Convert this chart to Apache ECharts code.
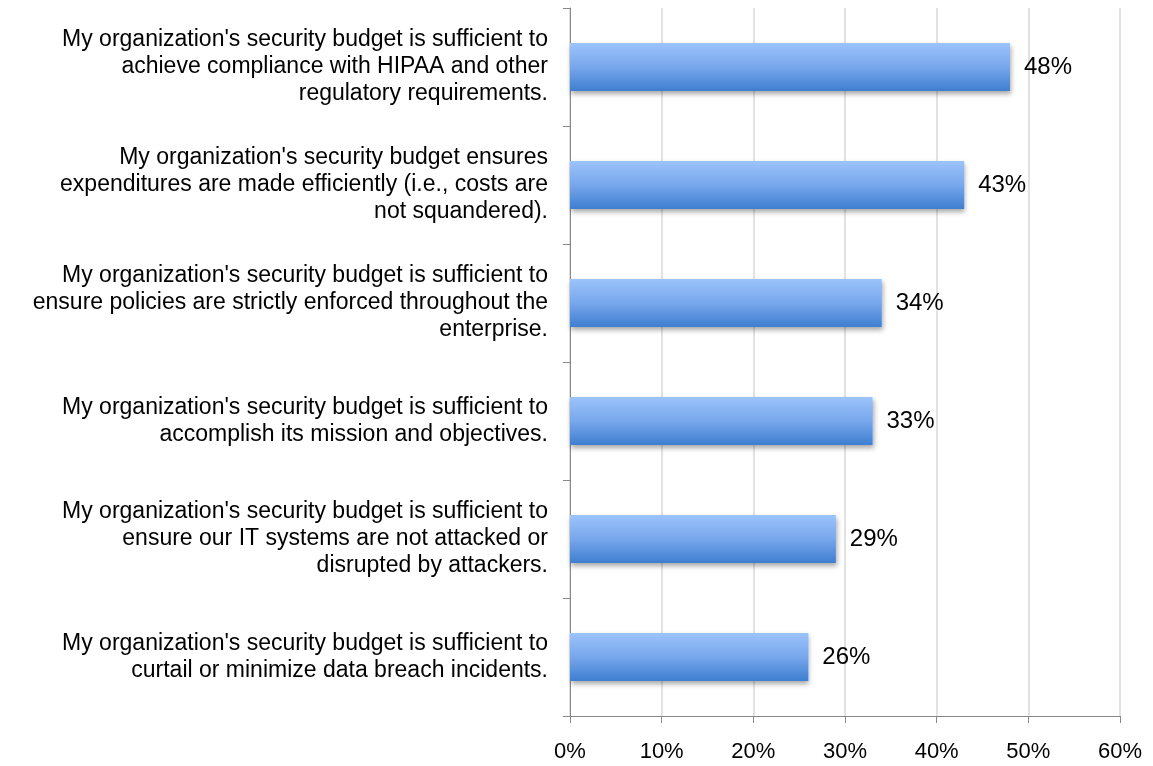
<!DOCTYPE html>
<html>
<head>
<meta charset="utf-8">
<script src="https://cdn.jsdelivr.net/npm/echarts@6/dist/echarts.min.js"></script>
<style>
  html, body { margin: 0; padding: 0; background: #fff; }
  #chart { width: 1153px; height: 766px; }
</style>
</head>
<body>
<div id="chart"></div>
<script>
// Survey statements, listed top to bottom
const categories = [
  "My organization's security budget is sufficient to\nachieve compliance with HIPAA and other\nregulatory requirements.",
  "My organization's security budget ensures\nexpenditures are made efficiently (i.e., costs are\nnot squandered).",
  "My organization's security budget is sufficient to\nensure policies are strictly enforced throughout the\nenterprise.",
  "My organization's security budget is sufficient to\naccomplish its mission and objectives.",
  "My organization's security budget is sufficient to\nensure our IT systems are not attacked or\ndisrupted by attackers.",
  "My organization's security budget is sufficient to\ncurtail or minimize data breach incidents."
];
// Share of respondents agreeing (%)
const values = [48, 43, 34, 33, 29, 26];
// X axis range and step (%)
const axisMin = 0;
const axisMax = 60;
const axisStep = 10;

const chart = echarts.init(document.getElementById('chart'));
const font = 'Arial, "Liberation Sans", sans-serif';

chart.setOption({
  animation: false,
  grid: { left: 570, right: 33, top: 8, bottom: 50, containLabel: false },
  xAxis: {
    type: 'value',
    min: axisMin,
    max: axisMax,
    interval: axisStep,
    axisLine: { show: true, lineStyle: { color: '#888', width: 1 } },
    axisTick: { show: true, inside: false, length: 7, lineStyle: { color: '#888' } },
    axisLabel: {
      formatter: v => v + '%',
      color: '#000',
      fontSize: 22,
      fontFamily: font,
      margin: 25
    },
    splitLine: { show: true, lineStyle: { color: '#d9d9d9', width: 1.5 } }
  },
  yAxis: {
    type: 'category',
    data: categories,
    inverse: true,
    axisLine: { show: true, lineStyle: { color: '#888', width: 1 } },
    axisTick: { show: true, length: 7, alignWithLabel: false, lineStyle: { color: '#888' } },
    axisLabel: {
      color: '#000',
      fontSize: 23,
      fontFamily: font,
      lineHeight: 27,
      align: 'right',
      margin: 22
    },
    splitLine: { show: false }
  },
  series: [{
    type: 'bar',
    data: values,
    barWidth: 48,
    itemStyle: {
      color: new echarts.graphic.LinearGradient(0, 0, 0, 1, [
        { offset: 0, color: '#9cc3fb' },
        { offset: 0.5, color: '#78a7ec' },
        { offset: 1, color: '#3e7ed0' }
      ]),
      shadowColor: 'rgba(0,0,0,0.35)',
      shadowBlur: 5,
      shadowOffsetX: 1,
      shadowOffsetY: 3
    },
    label: {
      show: true,
      position: 'right',
      distance: 14,
      formatter: p => p.value + '%',
      color: '#000',
      fontSize: 24,
      fontFamily: font
    }
  }]
});
</script>
</body>
</html>
